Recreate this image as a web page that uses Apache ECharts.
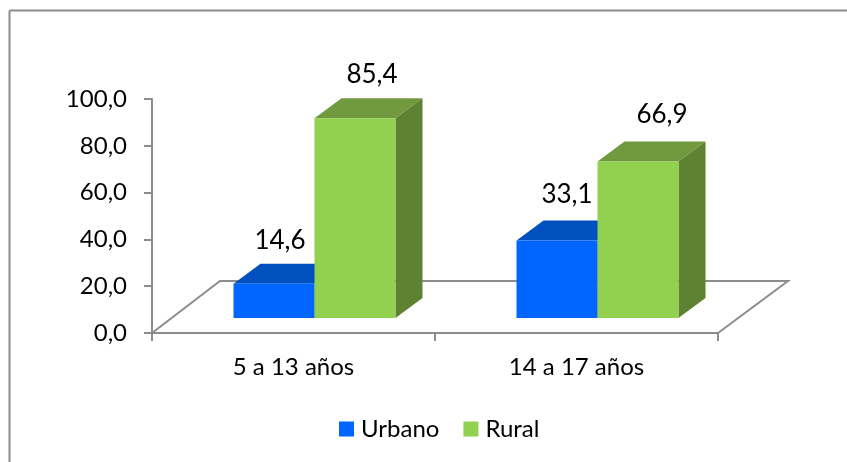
<!DOCTYPE html>
<html>
<head>
<meta charset="UTF-8">
<title>Urbano / Rural</title>
<style type="text/css">
html, body {
	margin: 0;
	height: 100%;
	background: #ffffff;
}
#chart {
	width: 847px;
	height: 462px;
}
</style>
</head>
<body>
	<div id="chart"></div>
<script type="text/javascript" src="https://cdn.jsdelivr.net/npm/echarts@6/dist/echarts.min.js"></script>
<script type="text/javascript">
	var categories = [ "5 a 13 años", "14 a 17 años" ];
	var urbano = [ 14.6, 33.1 ];
	var rural = [ 85.4, 66.9 ];
	var yTicks = [ 0, 20, 40, 60, 80, 100 ];

	var FONT = "Lato";
	var GRAY = "#8c8c8c";
	// 3D look: the bars sit 20,15 px inside the floor and are 27,20 px deep
	var INSET = [ 21, -15 ];
	var DEPTH = [ 27, -20 ];
	var BAR_WIDTH = 81;

	function comma(v) {
		return v.toFixed(1).replace(".", ",");
	}

	// floor of the 3D plot, one parallelogram behind the bars
	function renderFloor(params, api) {
		var c = params.coordSys;
		var x0 = c.x, x1 = c.x + c.width, y0 = c.y + c.height;
		return {
			type : "polyline",
			shape : {
				points : [ [ x0, y0 ], [ x0 + 68, y0 - 52 ], [ x1 + 70, y0 - 52 ], [ x1, y0 ] ]
			},
			style : {
				fill : null,
				stroke : GRAY,
				lineWidth : 2
			}
		};
	}

	function makeBar(side, front, top, right, labelShift) {
		return function(params, api) {
			var cat = api.value(0);
			var p = api.coord([ cat, api.value(1) ]);
			var base = api.coord([ cat, 0 ]);
			var x0 = p[0] + side * BAR_WIDTH + INSET[0];
			var x1 = x0 + BAR_WIDTH;
			var yT = p[1] + INSET[1];
			var yB = base[1] + INSET[1];
			var dx = DEPTH[0], dy = DEPTH[1];
			var shift = labelShift[cat];
			return {
				type : "group",
				children : [ {
					type : "polygon",
					shape : { points : [ [ x0, yT ], [ x0 + dx, yT + dy ], [ x1 + dx, yT + dy ], [ x1, yT ] ] },
					style : { fill : top }
				}, {
					type : "polygon",
					shape : { points : [ [ x1, yT ], [ x1 + dx, yT + dy ], [ x1 + dx, yB + dy ], [ x1, yB ] ] },
					style : { fill : right }
				}, {
					type : "rect",
					shape : { x : x0, y : yT, width : BAR_WIDTH, height : yB - yT },
					style : { fill : front }
				}, {
					type : "text",
					z2 : 10,
					style : {
						text : comma(api.value(1)),
						x : x0 + BAR_WIDTH / 2 + shift[0],
						y : yT + shift[1],
						align : "center",
						verticalAlign : "middle",
						font : "26px " + FONT,
						fill : "#000000"
					}
				} ]
			};
		};
	}

	function seriesData(values) {
		var out = [];
		for ( var i in values) {
			out.push([ Number(i), values[i] ]);
		}
		return out;
	}

	var chart = echarts.init(document.getElementById("chart"), null, { renderer : "canvas" });

	chart.setOption({
		animation : false,
		// the frame only shows on the top and left, the rest is cropped away
		graphic : [ {
			type : "line",
			shape : { x1 : 9.5, y1 : 10.5, x2 : 847, y2 : 10.5 },
			style : { stroke : GRAY, lineWidth : 2 }
		}, {
			type : "line",
			shape : { x1 : 9.5, y1 : 10.5, x2 : 9.5, y2 : 462 },
			style : { stroke : GRAY, lineWidth : 2 }
		} ],
		grid : { left : 152, top : 99, width : 566, height : 234 },
		legend : {
			left : 334,
			top : 412,
			itemWidth : 15,
			itemHeight : 15,
			itemGap : 24,
			icon : "rect",
			data : [ "Urbano", "Rural" ],
			textStyle : { fontFamily : FONT, fontSize : 24, color : "#000000", padding : [ 0, 0, 0, 2 ] }
		},
		xAxis : {
			type : "category",
			data : categories,
			axisLine : { lineStyle : { color : GRAY, width : 2 } },
			axisTick : { show : true, length : 8, alignWithLabel : false, lineStyle : { color : GRAY, width : 2 } },
			axisLabel : { fontFamily : FONT, fontSize : 24, color : "#000000", margin : 22 }
		},
		yAxis : {
			type : "value",
			min : yTicks[0],
			max : yTicks[yTicks.length - 1],
			interval : yTicks[1] - yTicks[0],
			splitLine : { show : false },
			axisLine : { show : true, lineStyle : { color : GRAY, width : 2 } },
			axisTick : { show : true, length : 8, lineStyle : { color : GRAY, width : 2 } },
			axisLabel : { fontFamily : FONT, fontSize : 24, color : "#000000", margin : 25, padding : [ 4, 0, 0, 0 ], formatter : comma }
		},
		series : [ {
			type : "custom",
			silent : true,
			renderItem : renderFloor,
			data : [ [ 0, 0 ] ],
			z : 1
		}, {
			name : "Urbano",
			type : "custom",
			renderItem : makeBar(-1, "#0066ff", "#0050bf", "#004cc0", [ [ 6, -43 ], [ 10, -46 ] ]),
			itemStyle : { color : "#0066ff" },
			data : seriesData(urbano),
			z : 2
		}, {
			name : "Rural",
			type : "custom",
			renderItem : makeBar(0, "#92d050", "#71993e", "#5f8132", [ [ 17, -44 ], [ 24, -47 ] ]),
			itemStyle : { color : "#92d050" },
			data : seriesData(rural),
			z : 3
		} ]
	});
</script>
</body>
</html>
